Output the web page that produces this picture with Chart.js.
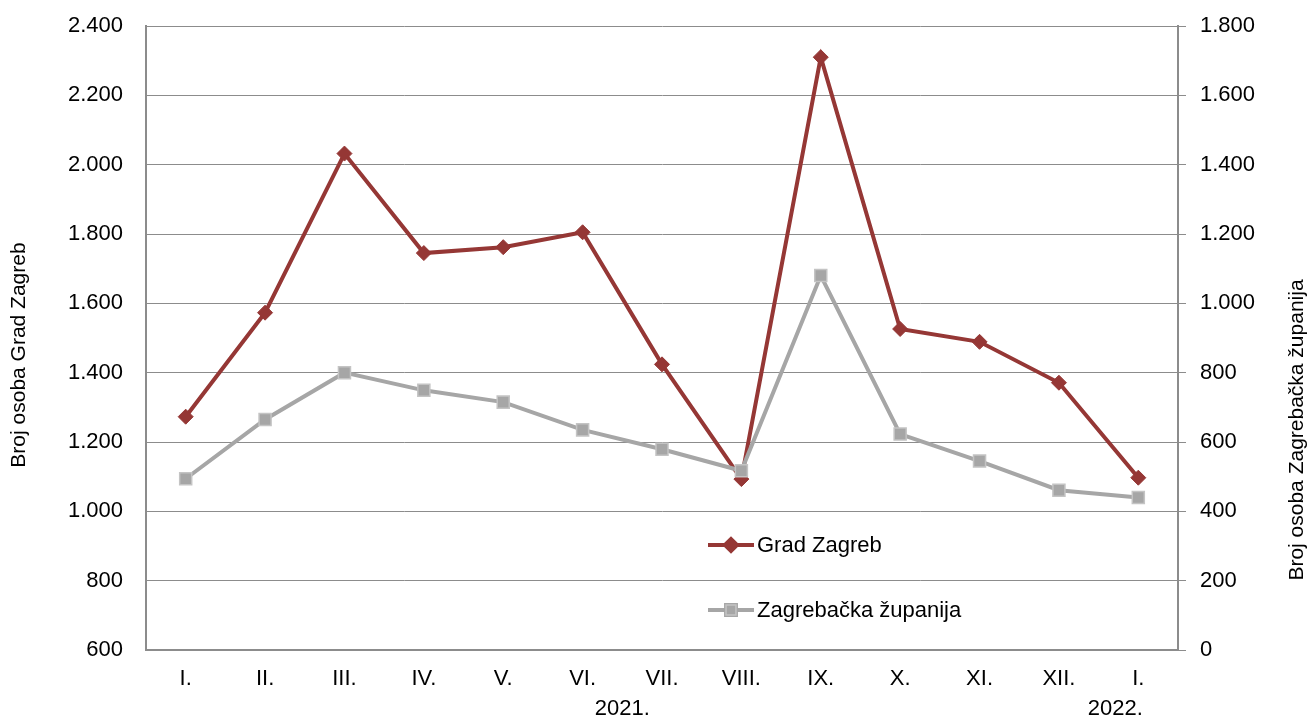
<!DOCTYPE html>
<html>
<head>
<meta charset="utf-8">
<script src="https://cdn.jsdelivr.net/npm/chart.js@4.4.0/dist/chart.umd.min.js"></script>
<style>
  html, body { margin: 0; padding: 0; background: #fff; }
  #wrap { width: 1311px; height: 720px; position: relative; }
</style>
</head>
<body>
<div id="wrap"><canvas id="chart"></canvas></div>
<script>
// Data
const months = ['I.', 'II.', 'III.', 'IV.', 'V.', 'VI.', 'VII.', 'VIII.', 'IX.', 'X.', 'XI.', 'XII.', 'I.'];
const years = ['2021.', '2022.'];
const yearFirst = [0, 12];
const yearLast = [11, 12];

const gradZagreb = [1273, 1573, 2032, 1745, 1762, 1805, 1424, 1093, 2310, 1526, 1489, 1371, 1097];
const zagrebackaZupanija = [494, 665, 800, 749, 715, 635, 579, 517, 1080, 623, 545, 461, 440];

const seriesNames = ['Grad Zagreb', 'Zagrebačka županija'];
const leftTitle = 'Broj osoba Grad Zagreb';
const rightTitle = 'Broj osoba Zagrebačka županija';

const colors = {
  red: '#953735',
  gray: '#A6A6A6',
  grayBorder: '#C4C4C4',
  grid: '#8C8C8C',
  text: '#000000',
};

const FONT = '"Liberation Sans", Arial, sans-serif';
Chart.defaults.font.family = FONT;
Chart.defaults.font.size = 22;
Chart.defaults.color = colors.text;

function fmt(v) {
  return v.toString().replace(/\B(?=(\d{3})+(?!\d))/g, '.');
}

// Axis titles, year row and the in-plot legend
const extras = {
  id: 'extras',
  afterDraw(chart) {
    const ctx = chart.ctx;
    const area = chart.chartArea;
    const x = chart.scales.x;
    const midY = (area.top + area.bottom) / 2;
    ctx.save();
    ctx.fillStyle = colors.text;
    ctx.textAlign = 'center';
    ctx.textBaseline = 'middle';

    // rotated titles, both read bottom to top
    ctx.font = '21px ' + FONT;
    [[19, leftTitle, midY + 17], [1297, rightTitle, midY + 92]].forEach(([tx, t, ty]) => {
      ctx.save();
      ctx.translate(tx, ty);
      ctx.rotate(-Math.PI / 2);
      ctx.fillText(t, 0, 0);
      ctx.restore();
    });

    // second label row: years
    ctx.font = '22px ' + FONT;
    years.forEach((y, i) => {
      let cx = (x.getPixelForValue(yearFirst[i]) + x.getPixelForValue(yearLast[i])) / 2;
      if (yearFirst[i] === yearLast[i]) cx -= 23;
      ctx.fillText(y, cx, 709);
    });

    // legend
    const lx = 708, ly = [545, 610];
    chart.data.datasets.forEach((ds, i) => {
      ctx.strokeStyle = ds.borderColor;
      ctx.lineWidth = 4;
      ctx.beginPath();
      ctx.moveTo(lx, ly[i]);
      ctx.lineTo(lx + 46, ly[i]);
      ctx.stroke();
      Chart.helpers.drawPoint(ctx, {
        pointStyle: ds.pointStyle, radius: ds.pointRadius - 1.5, borderWidth: 1
      }, lx + 23, ly[i]);
      ctx.fillStyle = ds.pointBackgroundColor;
      ctx.strokeStyle = ds.pointBorderColor;
      ctx.lineWidth = ds.pointBorderWidth;
      ctx.fill();
      ctx.stroke();
      ctx.fillStyle = colors.text;
      ctx.textAlign = 'left';
      ctx.fillText(seriesNames[i], lx + 49, ly[i] + 1);
    });
    ctx.restore();
  }
};

function fixY(width) {
  return function(scale) {
    scale.width = width;
    scale.paddingTop = 0;
    scale.paddingBottom = 0;
  };
}

new Chart(document.getElementById('chart'), {
  type: 'line',
  data: {
    labels: months,
    datasets: [
      {
        label: seriesNames[0],
        data: gradZagreb,
        yAxisID: 'y',
        borderColor: colors.red,
        borderWidth: 4,
        pointStyle: 'rectRot',
        pointRadius: 7.5,
        pointBackgroundColor: colors.red,
        pointBorderColor: colors.red,
        pointBorderWidth: 1,
        tension: 0,
        order: 2,
      },
      {
        label: seriesNames[1],
        data: zagrebackaZupanija,
        yAxisID: 'y1',
        borderColor: colors.gray,
        borderWidth: 4,
        pointStyle: 'rect',
        pointRadius: 8.5,
        pointBackgroundColor: colors.gray,
        pointBorderColor: colors.grayBorder,
        pointBorderWidth: 1.5,
        tension: 0,
        order: 1,
      }
    ]
  },
  options: {
    responsive: true,
    maintainAspectRatio: false,
    animation: false,
    layout: { padding: { top: 26, left: 0, right: 0, bottom: 0 } },
    plugins: {
      legend: { display: false },
      tooltip: { enabled: false }
    },
    scales: {
      x: {
        offset: true,
        grid: { display: false, drawTicks: false },
        border: { display: true, color: colors.grid, width: 2 },
        ticks: { padding: 16, maxRotation: 0, autoSkip: false },
        afterFit(scale) { scale.height = 70; }
      },
      y: {
        position: 'left',
        min: 600,
        max: 2400,
        ticks: {
          stepSize: 200,
          padding: 23,
          callback: (v) => fmt(v)
        },
        grid: { color: colors.grid, lineWidth: 1, drawTicks: false },
        border: { display: true, color: colors.grid, width: 2 },
        afterFit: fixY(146)
      },
      y1: {
        position: 'right',
        min: 0,
        max: 1800,
        ticks: {
          stepSize: 200,
          padding: 14,
          callback: (v) => fmt(v)
        },
        grid: { drawOnChartArea: false, color: colors.grid, tickLength: 8 },
        border: { display: true, color: colors.grid, width: 2 },
        afterFit: fixY(133)
      }
    }
  },
  plugins: [extras]
});
</script>
</body>
</html>
